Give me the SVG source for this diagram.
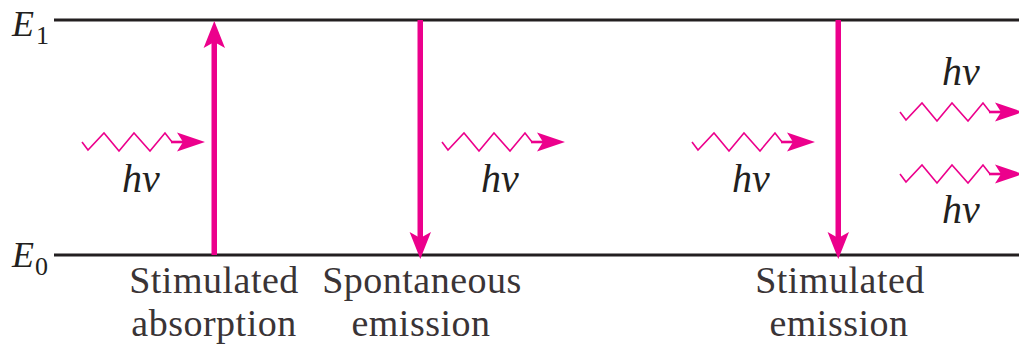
<svg xmlns="http://www.w3.org/2000/svg" xmlns:xlink="http://www.w3.org/1999/xlink" width="1019" height="345" viewBox="0 0 1019 345">
<style>
.lvl{stroke:#231f20;stroke-width:3.2;fill:none}
.lbl{font-family:"Liberation Serif",serif;font-size:38px;fill:#3a3436;letter-spacing:0.5px;text-anchor:middle}
.E{font-family:"Liberation Serif",serif;font-style:italic;font-size:36px;fill:#231f20}
.sub{font-family:"Liberation Serif",serif;font-size:26px;fill:#231f20}
.hv{font-family:"Liberation Serif",serif;font-style:italic;font-size:40px;fill:#231f20}
.wave{stroke:#ec008c;stroke-width:1.6;fill:none;stroke-linejoin:miter}
.stem{stroke:#ec008c;stroke-width:2.6;fill:none}
.mag{fill:#ec008c}
</style>
<defs>
<g id="photon">
<path class="wave" d="M0,0 L6,8 L22,-9 L37,9 L52,-9 L68,9 L83,-9 L90,0"/>
<line class="stem" x1="89" y1="0" x2="110" y2="0"/>
<polygon class="mag" points="123,0 95,-9.5 101,0 95,9.5"/>
</g>
</defs>
<g id="level-E1">
<line class="lvl" x1="54" y1="20" x2="1019" y2="20"/>
<text class="E" x="12" y="36">E</text>
<text class="sub" x="36" y="44">1</text>
</g>
<g id="level-E0">
<line class="lvl" x1="54" y1="255" x2="1019" y2="255"/>
<text class="E" x="12" y="267">E</text>
<text class="sub" x="35" y="275">0</text>
</g>
<g id="label-absorption">
<text class="lbl" x="214" y="293">Stimulated</text>
<text class="lbl" x="214" y="336">absorption</text>
</g>
<g id="label-spontaneous">
<text class="lbl" x="422" y="293">Spontaneous</text>
<text class="lbl" x="421" y="336">emission</text>
</g>
<g id="label-stimulated">
<text class="lbl" x="840" y="293">Stimulated</text>
<text class="lbl" x="839" y="336">emission</text>
</g>
<g id="hv-labels">
<text class="hv" x="122" y="192">hν</text>
<text class="hv" x="481" y="192">hν</text>
<text class="hv" x="732" y="192">hν</text>
<text class="hv" x="942" y="85">hν</text>
<text class="hv" x="942" y="223">hν</text>
</g>
<g id="connectors">
<g id="arrow-absorption">
<rect class="mag" x="211.5" y="40" width="5.5" height="215"/>
<polygon class="mag" points="214.3,21 225,48 214.3,42 203.6,48"/>
</g>
<g id="arrow-spontaneous">
<rect class="mag" x="417.5" y="20" width="5.5" height="220"/>
<polygon class="mag" points="420.3,259 431,232 420.3,238 409.6,232"/>
</g>
<g id="arrow-stimulated">
<rect class="mag" x="835.5" y="20" width="5.5" height="220"/>
<polygon class="mag" points="838.3,259 849,232 838.3,238 827.6,232"/>
</g>
<use xlink:href="#photon" x="82" y="142"/>
<use xlink:href="#photon" x="442" y="142"/>
<use xlink:href="#photon" x="692" y="142"/>
<use xlink:href="#photon" x="900" y="112"/>
<use xlink:href="#photon" x="900" y="174"/>
</g>
</svg>
